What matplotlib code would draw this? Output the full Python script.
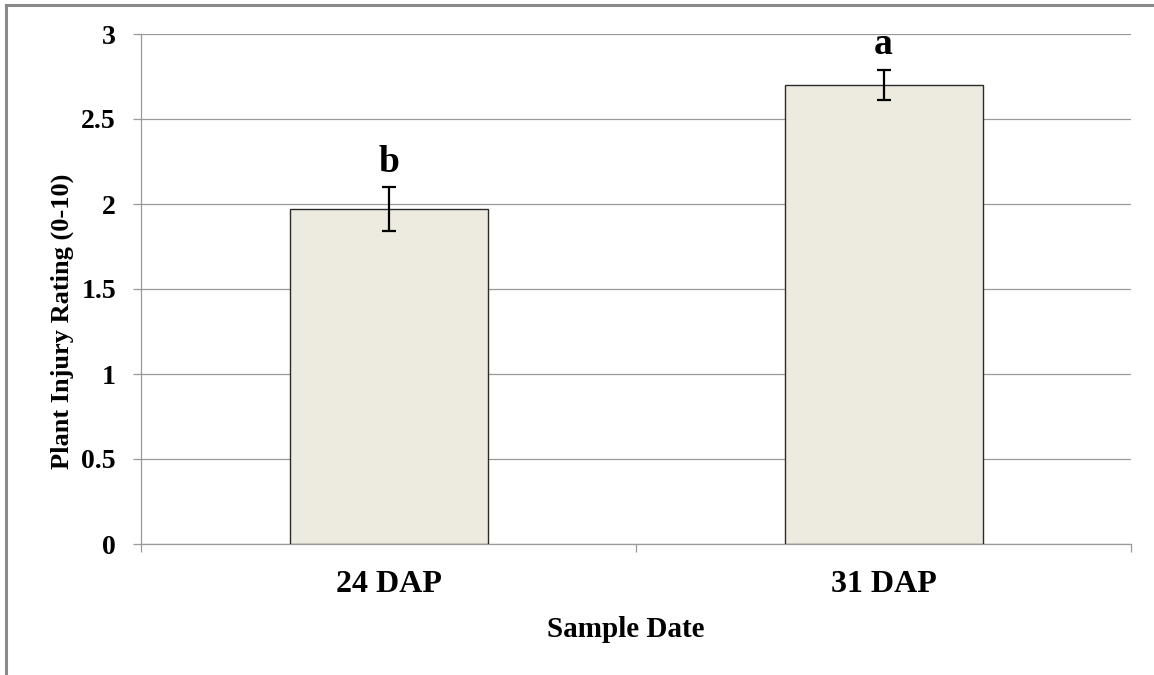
import matplotlib
matplotlib.use('Agg')
import matplotlib.pyplot as plt
from matplotlib.lines import Line2D

# data
dates = ['24 DAP', '31 DAP']
injury = [1.97, 2.70]
err = [0.13, 0.09]
letters = ['b', 'a']

plt.rcParams['font.family'] = ['Liberation Serif', 'DejaVu Serif']
plt.rcParams['font.weight'] = 'bold'

fig = plt.figure(figsize=(11.54, 6.75), dpi=100)
ax = fig.add_axes([141/1154, 1 - 544/675, 990/1154, 510/675])

x = range(len(dates))
ax.bar(x, injury, width=0.4, color='#EDEADF', edgecolor='#2b2b2b',
       linewidth=1.0, zorder=3)
ax.errorbar(x, injury, yerr=err, fmt='none', ecolor='black',
            elinewidth=1.6, capsize=5, capthick=1.6, zorder=4)

for xi, v, e, t in zip(x, injury, err, letters):
    ax.annotate(t, (xi, v + e), xytext=(0, 11), textcoords='offset points',
                ha='center', va='baseline', fontsize=27, fontweight='bold')

ax.set_xlim(-0.5, 1.5)
ax.set_ylim(0, 3)
ax.set_yticks([0, 0.5, 1, 1.5, 2, 2.5, 3])
ax.set_yticklabels(['0', '0.5', '1', '1.5', '2', '2.5', '3'])
ax.set_xticks(list(x))
ax.set_xticklabels(dates)
ax.set_xticks([-0.5, 0.5, 1.5], minor=True)

ax.grid(axis='y', color='#999999', linewidth=0.9, zorder=0)
ax.set_axisbelow(True)
for s in ['top', 'right']:
    ax.spines[s].set_visible(False)
for s in ['left', 'bottom']:
    ax.spines[s].set_color('#999999')
    ax.spines[s].set_linewidth(0.9)

ax.tick_params(axis='y', length=6, width=0.9, color='#999999', pad=12,
               labelsize=20)
ax.tick_params(axis='x', which='major', length=0, pad=19, labelsize=23)
ax.tick_params(axis='x', which='minor', length=6, width=0.9,
               color='#999999')

ax.set_xlabel('Sample Date', fontsize=21, fontweight='bold', va='baseline')
ax.xaxis.set_label_coords((626 - 141) / 990, (544 - 637) / 510)
ax.set_ylabel('Plant Injury Rating (0-10)', fontsize=19, fontweight='bold')
ax.yaxis.set_label_coords((74 - 141) / 990, (544 - 321) / 510)

# outer chart border (only top and left visible in the reference)
fig.add_artist(Line2D([6/1154, 1], [1 - 5/675, 1 - 5/675],
                      transform=fig.transFigure, color='#8a8a8a', lw=2.2))
fig.add_artist(Line2D([6/1154, 6/1154], [0, 1 - 5/675],
                      transform=fig.transFigure, color='#8a8a8a', lw=2.2))

fig.savefig('out.png', dpi=100, facecolor='white')
